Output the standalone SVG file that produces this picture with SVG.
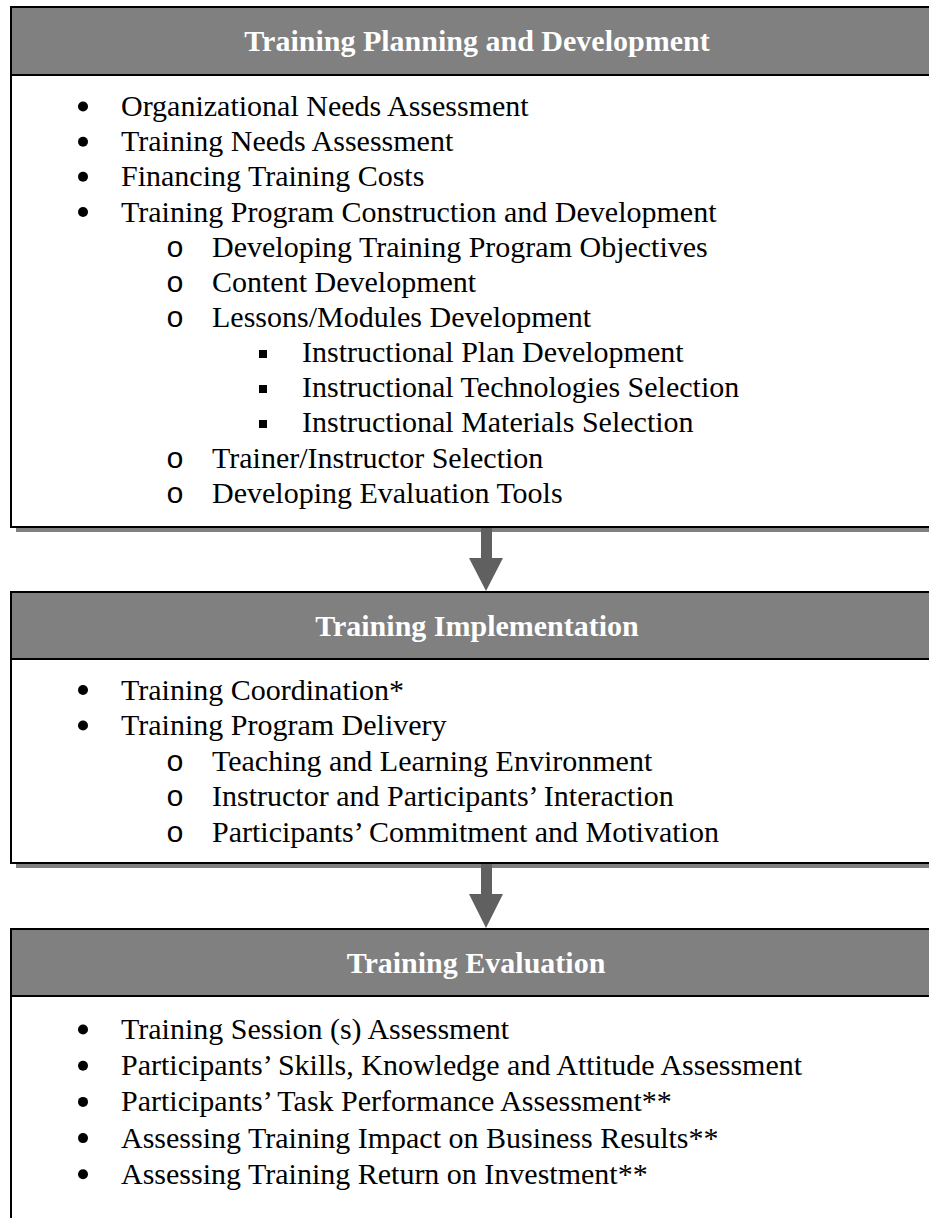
<svg xmlns="http://www.w3.org/2000/svg" width="929" height="1218" viewBox="0 0 929 1218">
<style>
.shadow{fill:#808080}
.box{fill:#ffffff;stroke:#000000;stroke-width:2}
.head{fill:#808080;stroke:#000000;stroke-width:2}
.title{font-family:"Liberation Serif","Times New Roman",serif;font-size:30px;font-weight:bold;fill:#ffffff;text-anchor:middle}
.t{font-family:"Liberation Serif","Times New Roman",serif;font-size:30px;fill:#000000}
.b2{font-family:"Liberation Mono","Courier New",monospace;font-size:30px;fill:#000000;text-anchor:middle}
.dot{fill:#000000}
.sq{fill:#000000}
.arrow{fill:#606060}
</style>
<rect width="929" height="1218" fill="#ffffff"/>

<g id="node-planning">
<rect class="shadow" x="16" y="12" width="937" height="520"/>
<rect class="box" x="11" y="7" width="937" height="520"/>
<rect class="head" x="11" y="7" width="937" height="68"/>
<text class="title" x="477" y="51">Training Planning and Development</text>
<circle class="dot" cx="83" cy="106.5" r="5"/><text class="t" x="121" y="116">Organizational Needs Assessment</text>
<circle class="dot" cx="83" cy="141.7" r="5"/><text class="t" x="121" y="151.2">Training Needs Assessment</text>
<circle class="dot" cx="83" cy="176.8" r="5"/><text class="t" x="121" y="186.3">Financing Training Costs</text>
<circle class="dot" cx="83" cy="212" r="5"/><text class="t" x="121" y="221.5">Training Program Construction and Development</text>
<text class="b2" x="175" y="256.6">o</text><text class="t" x="212" y="256.6">Developing Training Program Objectives</text>
<text class="b2" x="175" y="291.8">o</text><text class="t" x="212" y="291.8">Content Development</text>
<text class="b2" x="175" y="326.9">o</text><text class="t" x="212" y="326.9">Lessons/Modules Development</text>
<rect class="sq" x="259" y="350" width="8" height="8"/><text class="t" x="302" y="362.1">Instructional Plan Development</text>
<rect class="sq" x="259" y="385" width="8" height="8"/><text class="t" x="302" y="397.2">Instructional Technologies Selection</text>
<rect class="sq" x="259" y="420" width="8" height="8"/><text class="t" x="302" y="432.4">Instructional Materials Selection</text>
<text class="b2" x="175" y="467.5">o</text><text class="t" x="212" y="467.5">Trainer/Instructor Selection</text>
<text class="b2" x="175" y="502.7">o</text><text class="t" x="212" y="502.7">Developing Evaluation Tools</text>
</g>

<g id="node-implementation">
<rect class="shadow" x="16" y="597" width="937" height="271"/>
<rect class="box" x="11" y="592" width="937" height="271"/>
<rect class="head" x="11" y="592" width="937" height="67"/>
<text class="title" x="477" y="636">Training Implementation</text>
<circle class="dot" cx="83" cy="690" r="5"/><text class="t" x="121" y="699.5">Training Coordination*</text>
<circle class="dot" cx="83" cy="725.5" r="5"/><text class="t" x="121" y="735">Training Program Delivery</text>
<text class="b2" x="175" y="770.5">o</text><text class="t" x="212" y="770.5">Teaching and Learning Environment</text>
<text class="b2" x="175" y="806">o</text><text class="t" x="212" y="806">Instructor and Participants’ Interaction</text>
<text class="b2" x="175" y="841.5">o</text><text class="t" x="212" y="841.5">Participants’ Commitment and Motivation</text>
</g>

<g id="node-evaluation">
<rect class="box" x="11" y="929" width="937" height="320"/>
<rect class="head" x="11" y="929" width="937" height="67"/>
<text class="title" x="476" y="973">Training Evaluation</text>
<circle class="dot" cx="83" cy="1029.5" r="5"/><text class="t" x="121" y="1039">Training Session (s) Assessment</text>
<circle class="dot" cx="83" cy="1065.7" r="5"/><text class="t" x="121" y="1075.2">Participants’ Skills, Knowledge and Attitude Assessment</text>
<circle class="dot" cx="83" cy="1101.9" r="5"/><text class="t" x="121" y="1111.4">Participants’ Task Performance Assessment**</text>
<circle class="dot" cx="83" cy="1138.1" r="5"/><text class="t" x="121" y="1147.6">Assessing Training Impact on Business Results**</text>
<circle class="dot" cx="83" cy="1174.3" r="5"/><text class="t" x="121" y="1183.8">Assessing Training Return on Investment**</text>
</g>

<g id="connectors">
<polygon class="arrow" points="481,528 492,528 492,558 503,558 486,591 469,558 481,558"/>
<polygon class="arrow" points="481,864 492,864 492,894 503,894 486,928 469,894 481,894"/>
</g>
</svg>
